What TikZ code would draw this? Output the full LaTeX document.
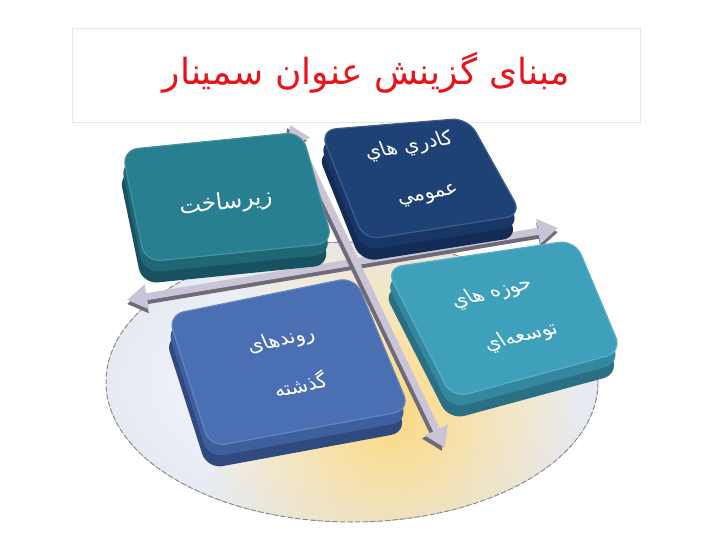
\documentclass[tikz,border=0pt]{standalone}
\usepackage{fontspec}
\setmainfont{DejaVu Sans}
\newfontfamily\farsi[Script=Arabic]{DejaVu Sans}
\TeXXeTstate=1
\usetikzlibrary{arrows.meta,fadings}
\definecolor{titlered}{HTML}{E8141B}
\definecolor{ellipsebg}{HTML}{E6EAF2}
\definecolor{glowyellow}{HTML}{FBD77F}
\definecolor{arrowtop}{HTML}{C9C5D6}
\definecolor{arrowside}{HTML}{6E6A78}
\definecolor{tealface}{HTML}{287F8F}
\definecolor{tealmid}{HTML}{1F6775}
\definecolor{tealdark}{HTML}{185260}
\definecolor{navyface}{HTML}{1E4275}
\definecolor{navymid}{HTML}{183767}
\definecolor{navydark}{HTML}{132C55}
\definecolor{blueface}{HTML}{4A70B3}
\definecolor{bluemid}{HTML}{3D5F9E}
\definecolor{bluedark}{HTML}{30497F}
\definecolor{cyanface}{HTML}{3FA0BB}
\definecolor{cyanmid}{HTML}{33889F}
\definecolor{cyandark}{HTML}{2A6F83}
\tikzfading[name=glowfade, inner color=transparent!0, outer color=transparent!100]
\tikzset{%
        tiletext/.style = {text=white, align=center, font=\farsi\fontsize{20}{50}\selectfont},
        axis/.style = {line width=7pt, {Triangle[width=24pt,length=20pt]}-{Triangle[width=24pt,length=20pt]}},
        ellipseline/.style = {draw=black!45, line width=1pt, dash pattern=on 5pt off 2.5pt}
}
% one tile: corners (#1-a) .. (#1-d), colours face / mid / dark
\newcommand{\tile}[4]{%
    \fill[#4, rounded corners=16pt, transform canvas={xshift=-3pt,yshift=-22pt}]
        (#1-a) -- (#1-b) -- (#1-c) -- (#1-d) -- cycle;
    \fill[#3, rounded corners=16pt, transform canvas={xshift=-1.5pt,yshift=-11pt}]
        (#1-a) -- (#1-b) -- (#1-c) -- (#1-d) -- cycle;
    \filldraw[fill=#2, draw=#2!85!white, line width=1.2pt, rounded corners=16pt]
        (#1-a) -- (#1-b) -- (#1-c) -- (#1-d) -- cycle;
}
\begin{document}
\begin{tikzpicture}[x=1pt, y=-1pt]
            \fill[white] (0,0) rectangle (720,540);
            \useasboundingbox (0,0) rectangle (720,540);
            % title
            \node[draw=black!10, minimum width=568pt, minimum height=94pt, inner sep=0pt] (titlebox) at (356,75) {};
            \node[text=titlered, font=\farsi\fontsize{36}{40}\selectfont] (title) at (366,73)
                {\beginR مبنای گزینش عنوان سمینار\endR};
            % background
            \fill[inner color=white, outer color=ellipsebg] (352,382) ellipse [x radius=246pt, y radius=140pt];
            \begin{scope}
                \clip (106,190) -- (598,190) -- (598,382)
                    arc [start angle=0, end angle=-180, x radius=246pt, y radius=140pt] -- cycle;
                \fill[glowyellow, path fading=glowfade] (390,410) circle [radius=195pt];
            \end{scope}
            \draw[ellipseline] (352,382) ellipse [x radius=246pt, y radius=140pt];
            % axes
            \coordinate (west) at (127,300);
            \coordinate (east) at (558,228);
            \coordinate (north) at (290,125);
            \coordinate (south) at (445,448);
            \draw[axis, arrowside, transform canvas={yshift=-4pt}] (west) -- (east);
            \draw[axis, arrowtop] (west) -- (east);
            \draw[axis, arrowside, transform canvas={xshift=-3pt,yshift=-3pt}] (north) -- (south);
            \draw[axis, arrowtop] (north) -- (south);
            % tiles
            \coordinate (zir-a) at (122,150);
            \coordinate (zir-b) at (302,132);
            \coordinate (zir-c) at (333,243);
            \coordinate (zir-d) at (145,262);
            \coordinate (kad-a) at (320,130);
            \coordinate (kad-b) at (468,118);
            \coordinate (kad-c) at (522,215);
            \coordinate (kad-d) at (364,240);
            \coordinate (rav-a) at (168,315);
            \coordinate (rav-b) at (355,277);
            \coordinate (rav-c) at (410,410);
            \coordinate (rav-d) at (210,447);
            \coordinate (hoz-a) at (386,268);
            \coordinate (hoz-b) at (575,240);
            \coordinate (hoz-c) at (622,352);
            \coordinate (hoz-d) at (452,398);
            \tile{zir}{tealface}{tealmid}{tealdark}
            \tile{kad}{navyface}{navymid}{navydark}
            \tile{rav}{blueface}{bluemid}{bluedark}
            \tile{hoz}{cyanface}{cyanmid}{cyandark}
            \node[tiletext, font=\farsi\fontsize{23}{50}\selectfont, rotate=7] (zirsakht) at (226,203)
                {\beginR زیرساخت\endR};
            \node[tiletext, rotate=10, xslant=-0.2] (kadri) at (418,170)
                {\beginR کادري هاي\endR\\\beginR عمومي\endR};
            \node[tiletext, rotate=12, xslant=-0.2] (ravand) at (290,362)
                {\beginR روندهای\endR\\\beginR گذشته\endR};
            \node[tiletext, rotate=14, xslant=-0.35] (hozeh) at (506,315)
                {\beginR حوزه هاي\endR\\\beginR توسعه‌اي\endR};
        \end{tikzpicture}
\end{document}
